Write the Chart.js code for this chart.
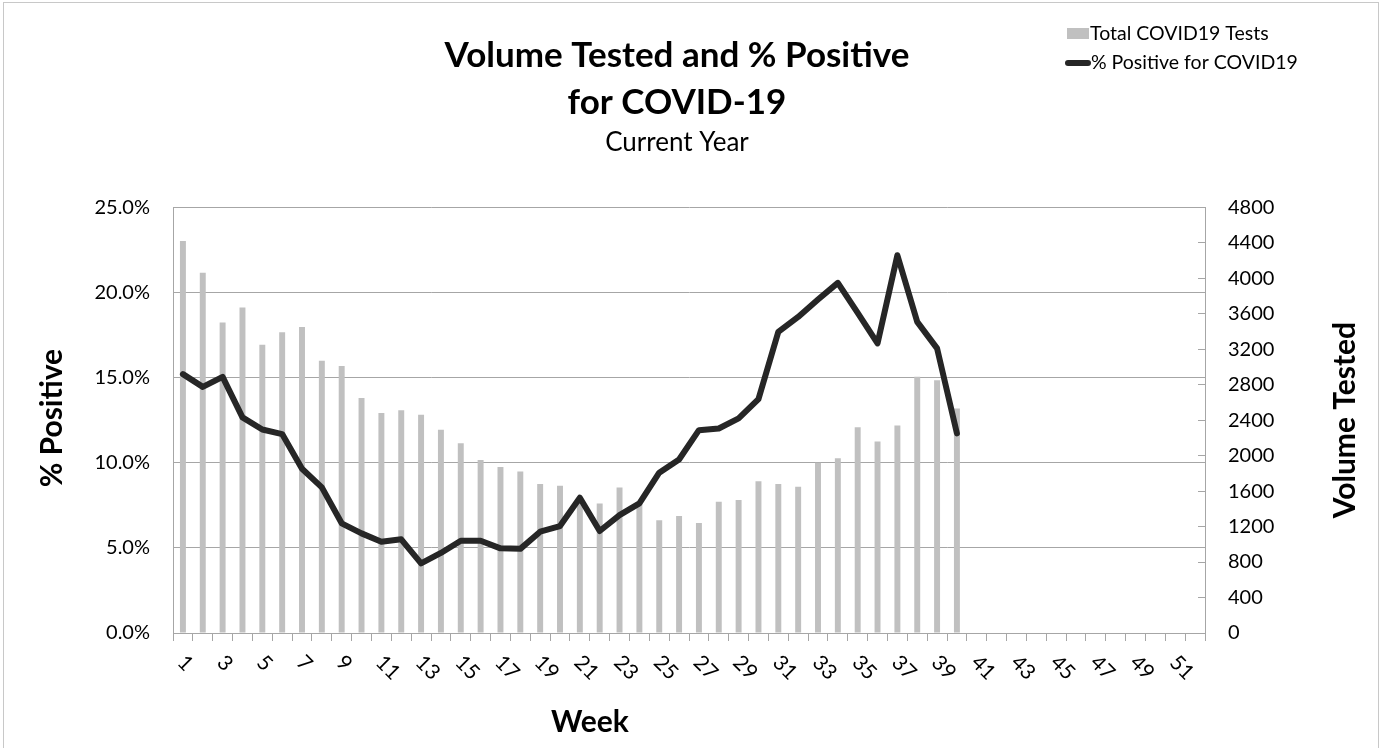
<!DOCTYPE html>
<html>
<head>
<meta charset="utf-8">
<title>Volume Tested and % Positive for COVID-19</title>
<script src="https://cdn.jsdelivr.net/npm/chart.js@4.4.1/dist/chart.umd.min.js"></script>
<style>
  html, body { margin: 0; padding: 0; background: #fff; }
</style>
</head>
<body>
<canvas id="covidChart" width="1383" height="748"></canvas>
<script>
// weekly data
const weeks = ['1', '2', '3', '4', '5', '6', '7', '8', '9', '10', '11', '12', '13',
  '14', '15', '16', '17', '18', '19', '20', '21', '22', '23', '24', '25', '26',
  '27', '28', '29', '30', '31', '32', '33', '34', '35', '36', '37', '38', '39',
  '40', '41', '42', '43', '44', '45', '46', '47', '48', '49', '50', '51', '52'];

const totalTests = [4420, 4060, 3500, 3670, 3250, 3390, 3450, 3070, 3010, 2650,
  2480, 2510, 2460, 2290, 2140, 1950, 1870, 1820, 1680, 1660,
  1500, 1460, 1640, 1480, 1270, 1320, 1240, 1480, 1500, 1710,
  1680, 1650, 1920, 1970, 2320, 2160, 2340, 2890, 2850, 2530];

const pctPositive = [15.2, 14.45, 15.04, 12.66, 11.95, 11.68, 9.64, 8.55, 6.44, 5.85,
  5.36, 5.5, 4.09, 4.7, 5.42, 5.42, 4.97, 4.94, 5.95, 6.28,
  7.94, 5.99, 6.92, 7.61, 9.41, 10.19, 11.91, 12.01, 12.6, 13.73,
  17.68, 18.56, 19.58, 20.56, 18.8, 17.0, 22.18, 18.27, 16.71, 11.72];

const titleLines = ['Volume Tested and % Positive', 'for COVID-19'];
const subtitleText = 'Current Year';
const seriesNames = ['Total COVID19 Tests', '% Positive for COVID19'];
const axisTitles = { x: 'Week', left: '% Positive', right: 'Volume Tested' };

const FONT = 'Lato, "Open Sans", sans-serif';
const BAR_GREY = '#c0c0c0';
const LINE_DARK = '#262626';
const AXIS_GREY = '#a6a6a6';

// extra drawing: outer frame, rotated week labels, axis titles, legend
const chartDecor = {
  id: 'chartDecor',
  beforeDraw(chart) {
    const ctx = chart.ctx;
    ctx.save();
    ctx.fillStyle = '#fff';
    ctx.fillRect(0, 0, chart.width, chart.height);
    ctx.strokeStyle = '#c8c8c8';
    ctx.lineWidth = 1;
    ctx.strokeRect(3.5, 2.5, 1375, 760);
    ctx.restore();
  },
  afterDraw(chart) {
    const ctx = chart.ctx;
    const xs = chart.scales.x;
    const area = chart.chartArea;
    ctx.save();
    ctx.fillStyle = '#000';

    // week labels, every other one, rotated 45 deg clockwise
    ctx.font = '21px ' + FONT;
    ctx.textAlign = 'left';
    ctx.textBaseline = 'middle';
    weeks.forEach((w, i) => {
      if (i % 2 !== 0) return;
      const px = xs.getPixelForValue(i);
      ctx.save();
      ctx.translate(px - 2, area.bottom + 26);
      ctx.rotate(Math.PI / 4);
      ctx.fillText(w, 0, 0);
      ctx.restore();
    });

    // axis titles
    ctx.font = 'bold 30px ' + FONT;
    ctx.textAlign = 'center';
    ctx.fillText(axisTitles.x, 590, 722);
    const midY = (area.top + area.bottom) / 2;
    ctx.save();
    ctx.translate(52, midY - 2);
    ctx.rotate(-Math.PI / 2);
    ctx.fillText(axisTitles.left, 0, 0);
    ctx.restore();
    ctx.save();
    ctx.translate(1345, midY);
    ctx.rotate(-Math.PI / 2);
    ctx.fillText(axisTitles.right, 0, 0);
    ctx.restore();

    // legend, top right
    ctx.font = '19.5px ' + FONT;
    ctx.textAlign = 'left';
    ctx.fillStyle = BAR_GREY;
    ctx.fillRect(1067, 28, 22, 11);
    ctx.fillStyle = '#000';
    ctx.fillText(seriesNames[0], 1090, 34);
    ctx.strokeStyle = LINE_DARK;
    ctx.lineWidth = 6;
    ctx.lineCap = 'round';
    ctx.beginPath();
    ctx.moveTo(1068, 63);
    ctx.lineTo(1088, 63);
    ctx.stroke();
    ctx.fillText(seriesNames[1], 1091, 63);
    ctx.restore();
  }
};

new Chart(document.getElementById('covidChart'), {
  type: 'bar',
  data: {
    labels: weeks,
    datasets: [
      {
        type: 'line',
        label: seriesNames[1],
        data: pctPositive,
        yAxisID: 'y',
        borderColor: LINE_DARK,
        borderWidth: 6,
        borderJoinStyle: 'round',
        borderCapStyle: 'round',
        pointRadius: 0,
        tension: 0,
        order: 0
      },
      {
        type: 'bar',
        label: seriesNames[0],
        data: totalTests,
        yAxisID: 'y1',
        backgroundColor: BAR_GREY,
        borderWidth: 0,
        barPercentage: 0.3,
        categoryPercentage: 1.0,
        order: 1
      }
    ]
  },
  options: {
    responsive: false,
    animation: false,
    layout: { padding: { left: 0, right: 29, top: 0, bottom: 0 } },
    plugins: {
      legend: { display: false },
      tooltip: { enabled: false },
      title: {
        display: true,
        text: titleLines,
        color: '#000',
        font: { family: FONT, size: 35, weight: 'bold', lineHeight: 1.343 },
        padding: { top: 32, bottom: 0 }
      },
      subtitle: {
        display: true,
        text: subtitleText,
        color: '#000',
        font: { family: FONT, size: 26, lineHeight: 1.2 },
        padding: { top: 1, bottom: 49 }
      }
    },
    scales: {
      x: {
        offset: true,
        grid: {
          offset: true,
          drawOnChartArea: false,
          drawTicks: true,
          tickLength: 8,
          color: AXIS_GREY
        },
        border: { display: true, color: AXIS_GREY },
        ticks: { display: false, autoSkip: false },
        afterFit(scale) { scale.height = 115; }
      },
      y: {
        position: 'left',
        min: 0,
        max: 25,
        ticks: {
          stepSize: 5,
          padding: 23,
          color: '#000',
          font: { family: FONT, size: 20 },
          callback: v => v.toFixed(1) + '%'
        },
        grid: { color: AXIS_GREY, drawTicks: false },
        border: { display: true, color: AXIS_GREY },
        afterFit(scale) { scale.width = 173; }
      },
      y1: {
        position: 'right',
        min: 0,
        max: 4800,
        ticks: {
          stepSize: 400,
          padding: 30,
          color: '#000',
          font: { family: FONT, size: 20 },
          callback: v => String(v)
        },
        grid: { drawOnChartArea: false, drawTicks: true, tickLength: -7, color: AXIS_GREY },
        border: { display: true, color: AXIS_GREY },
        afterFit(scale) { scale.width = 149; }
      }
    }
  },
  plugins: [chartDecor]
});
</script>
</body>
</html>
